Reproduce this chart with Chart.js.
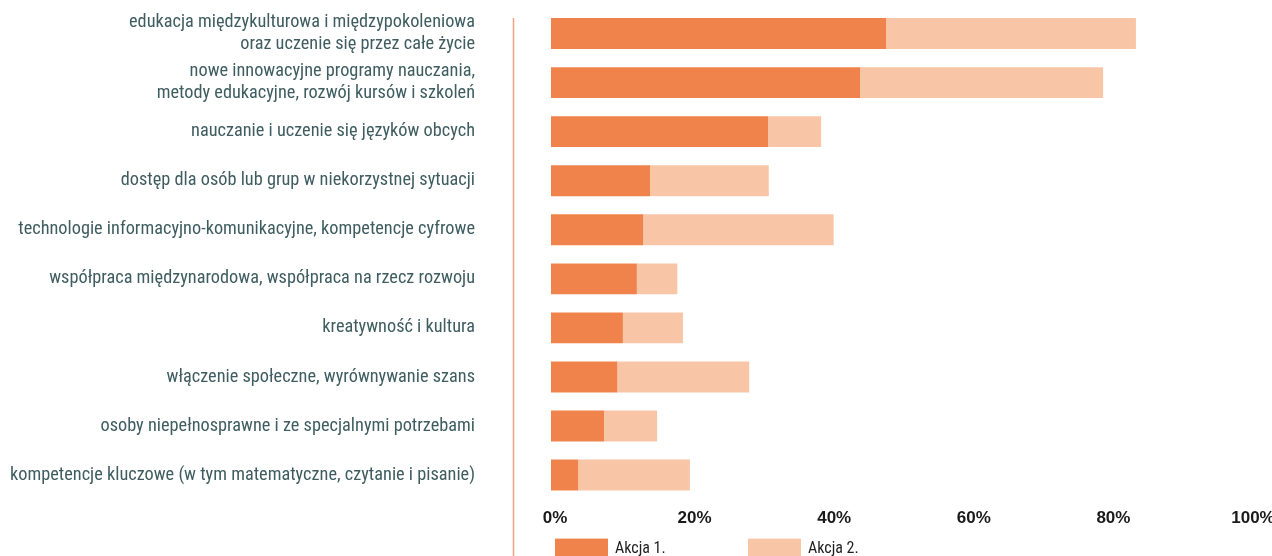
<!DOCTYPE html>
<html>
<head>
<meta charset="utf-8">
<script src="https://cdn.jsdelivr.net/npm/chart.js@4.4.1/dist/chart.umd.min.js"></script>
<style>
  html, body { margin: 0; padding: 0; background: #ffffff; }
  #wrap { width: 1272px; height: 556px; position: relative; }
</style>
</head>
<body>
<div id="wrap"><canvas id="c" width="1272" height="556"></canvas></div>
<script>
const categories = [
  ["edukacja międzykulturowa i międzypokoleniowa", "oraz uczenie się przez całe życie"],
  ["nowe innowacyjne programy nauczania,", "metody edukacyjne, rozwój kursów i szkoleń"],
  "nauczanie i uczenie się języków obcych",
  "dostęp dla osób lub grup w niekorzystnej sytuacji",
  "technologie informacyjno-komunikacyjne, kompetencje cyfrowe",
  "współpraca międzynarodowa, współpraca na rzecz rozwoju",
  "kreatywność i kultura",
  "włączenie społeczne, wyrównywanie szans",
  "osoby niepełnosprawne i ze specjalnymi potrzebami",
  "kompetencje kluczowe (w tym matematyczne, czytanie i pisanie)"
];
const seriesNames = ["Akcja 1.", "Akcja 2."];
const akcja1 = [48.0, 44.3, 31.1, 14.2, 13.2, 12.3, 10.3, 9.5, 7.6, 3.9];
const akcja2 = [35.8, 34.8, 7.6, 17.0, 27.3, 5.8, 8.6, 18.9, 7.6, 16.0];
const xTicks = [0, 20, 40, 60, 80, 100];

const COLOR1 = '#EF834B';
const COLOR2 = '#F8C6A6';
const LABEL_FONT = '"Liberation Sans Narrow", "Roboto Condensed", "Liberation Sans", sans-serif';

const sideLinePlugin = {
  id: 'sideLine',
  afterDraw(chart) {
    const ctx = chart.ctx;
    const meta = chart.getDatasetMeta(0);
    const first = meta.data[0];
    const top = first.y - first.height / 2;
    const x = chart.chartArea.left - 37.5;
    ctx.save();
    ctx.strokeStyle = '#F2A384';
    ctx.lineWidth = 1.5;
    ctx.beginPath();
    ctx.moveTo(x, top);
    ctx.lineTo(x, chart.height);
    ctx.stroke();
    ctx.restore();
  }
};

const legendPlugin = {
  id: 'customLegend',
  afterDraw(chart) {
    const ctx = chart.ctx;
    const left = chart.chartArea.left + 4;
    const boxTop = chart.chartArea.bottom + 39;
    const offsets = [0, 193];
    ctx.save();
    chart.data.datasets.forEach((ds, i) => {
      const bx = left + offsets[i];
      ctx.fillStyle = ds.backgroundColor;
      ctx.fillRect(bx, boxTop, 53, 20);
      ctx.fillStyle = '#1f1f1f';
      ctx.font = '16px ' + LABEL_FONT;
      ctx.textBaseline = 'alphabetic';
      ctx.textAlign = 'left';
      ctx.fillText(ds.label, bx + 60, boxTop + 14.5);
    });
    ctx.restore();
  }
};

new Chart(document.getElementById('c'), {
  type: 'bar',
  data: {
    labels: categories,
    datasets: [
      { label: seriesNames[0], data: akcja1, backgroundColor: COLOR1, borderWidth: 0 },
      { label: seriesNames[1], data: akcja2, backgroundColor: COLOR2, borderWidth: 0 }
    ]
  },
  options: {
    indexAxis: 'y',
    responsive: false,
    animation: false,
    devicePixelRatio: 1,
    barPercentage: 0.63,
    categoryPercentage: 1.0,
    layout: { padding: { top: 9, bottom: 18, left: 0, right: 23 } },
    plugins: {
      legend: { display: false },
      tooltip: { enabled: false }
    },
    scales: {
      x: {
        stacked: true,
        min: 0,
        max: 100,
        afterBuildTicks(scale) { scale.ticks = xTicks.map(v => ({ value: v })); },
        afterFit(scale) {
          scale.paddingLeft = 0;
          scale.paddingRight = 0;
        },
        grid: { display: false, drawTicks: false },
        border: { display: false },
        ticks: {
          padding: 9,
          labelOffset: 4,
          color: '#1a1a1a',
          font: { family: '"Liberation Sans", Arial, sans-serif', size: 17, weight: 'bold' },
          callback: v => v + '%'
        }
      },
      y: {
        stacked: true,
        grid: { display: false, drawTicks: false },
        border: { display: false },
        afterFit(scale) {
          scale.width = 551;
          scale.paddingTop = 0;
          scale.paddingBottom = 0;
        },
        ticks: {
          padding: 76,
          color: '#3F5D60',
          font: { family: LABEL_FONT, size: 18.3, lineHeight: 1.18 }
        }
      }
    }
  },
  plugins: [sideLinePlugin, legendPlugin]
});
</script>
</body>
</html>
